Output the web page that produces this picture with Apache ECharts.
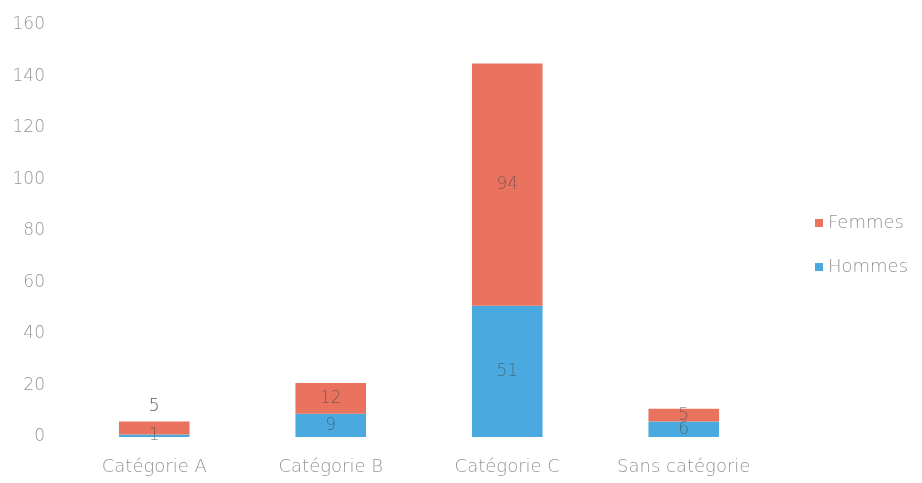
<!DOCTYPE html>
<html>
<head>
<meta charset="utf-8">
<script src="https://cdn.jsdelivr.net/npm/echarts@6/dist/echarts.min.js"></script>
<style>
  html, body { margin: 0; padding: 0; background: #fff; }
  #chart { width: 922px; height: 483px; }
</style>
</head>
<body>
<div id="chart"></div>
<script>
// Effectifs par catégorie, répartis entre hommes et femmes
const categories = ['Catégorie A', 'Catégorie B', 'Catégorie C', 'Sans catégorie'];
const hommes = [1, 9, 51, 6];
const femmes = [5, 12, 94, 5];
const yTicks = [0, 20, 40, 60, 80, 100, 120, 140, 160];

const FONT = '"DejaVu Sans", "Liberation Sans", sans-serif';
const RED = '#e9735f';
const BLUE = '#4aaadf';
const AXIS_TEXT = '#959595';

const labelStyle = {
  show: true,
  position: 'inside',
  fontFamily: FONT,
  fontWeight: 200,
  fontSize: 17,
  color: 'rgba(70,70,70,0.62)'
};

// The first Femmes segment is too thin for its label, so it sits above the bar.
const femmesData = femmes.map((v, i) => i === 0
  ? { value: v, label: { position: 'top', distance: 6, color: '#555' } }
  : v);

const chart = echarts.init(document.getElementById('chart'), null, { renderer: 'canvas' });
chart.setOption({
  animation: false,
  backgroundColor: '#fff',
  grid: { left: 66, right: 150, top: 25, bottom: 46 },
  legend: {
    orient: 'vertical',
    left: 810,
    top: 209,
    itemGap: 26,
    itemWidth: 8,
    itemHeight: 8,
    icon: 'rect',
    data: ['Femmes', 'Hommes'],
    textStyle: { fontFamily: FONT, fontWeight: 200, fontSize: 18, color: AXIS_TEXT, padding: [0, 0, 0, 0] }
  },
  xAxis: {
    type: 'category',
    data: categories,
    axisLine: { show: false },
    axisTick: { show: false },
    axisLabel: { fontFamily: FONT, fontWeight: 200, fontSize: 18, color: AXIS_TEXT, margin: 21 }
  },
  yAxis: {
    type: 'value',
    min: yTicks[0],
    max: yTicks[yTicks.length - 1],
    interval: 20,
    splitLine: { show: false },
    axisLine: { show: false },
    axisTick: { show: false },
    axisLabel: { fontFamily: FONT, fontWeight: 200, fontSize: 17, color: AXIS_TEXT, margin: 21 }
  },
  series: [
    {
      name: 'Hommes',
      type: 'bar',
      stack: 'total',
      barWidth: '40%',
      itemStyle: { color: BLUE },
      label: labelStyle,
      data: hommes
    },
    {
      name: 'Femmes',
      type: 'bar',
      stack: 'total',
      barWidth: '40%',
      itemStyle: { color: RED },
      label: labelStyle,
      data: femmesData
    }
  ]
});
</script>
</body>
</html>
